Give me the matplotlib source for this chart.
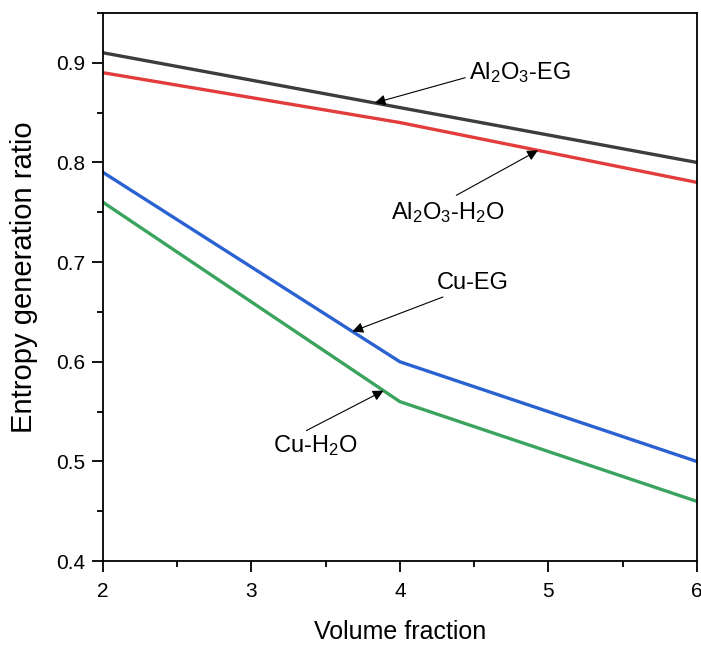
#!/usr/bin/env python3
"""Entropy generation ratio vs volume fraction for four nanofluids."""
import matplotlib

matplotlib.use("Agg")
import matplotlib.pyplot as plt
import numpy as np
from matplotlib.ticker import AutoMinorLocator, MultipleLocator

plt.rcParams["font.family"] = ["Liberation Sans", "DejaVu Sans"]
plt.rcParams["mathtext.fontset"] = "custom"
plt.rcParams["mathtext.rm"] = "Liberation Sans"
plt.rcParams["mathtext.default"] = "regular"

volume_fraction = [2, 4, 6]
al2o3_eg = [0.91, 0.855, 0.80]
al2o3_h2o = [0.89, 0.84, 0.78]
cu_eg = [0.79, 0.60, 0.50]
cu_h2o = [0.76, 0.56, 0.46]

series = [
    (al2o3_eg, "#3d3d3d"),
    (al2o3_h2o, "#e23c3c"),
    (cu_eg, "#2a62d2"),
    (cu_h2o, "#3aa45e"),
]

# label text, text position, arrow tail, x of arrow head on the curve
labels = [
    ("Al$_2$O$_3$-EG", (4.81, 0.890), (4.44, 0.885), 3.83, al2o3_eg),
    ("Al$_2$O$_3$-H$_2$O", (4.32, 0.750), (4.38, 0.767), 4.93, al2o3_h2o),
    ("Cu-EG", (4.49, 0.679), (4.29, 0.665), 3.68, cu_eg),
    ("Cu-H$_2$O", (3.43, 0.516), (3.37, 0.531), 3.89, cu_h2o),
]

fig = plt.figure(figsize=(7.01, 6.45), dpi=100)
ax = fig.add_axes([0.147, 0.130, 0.847, 0.850])

for y, c in series:
    ax.plot(volume_fraction, y, color=c, lw=2.4, solid_joinstyle="miter")

for text, tpos, tail, hx, y in labels:
    hy = np.interp(hx, volume_fraction, y)
    ax.annotate("", xy=(hx, hy), xytext=tail,
                arrowprops=dict(arrowstyle="-|>", lw=0.8, color="black",
                                mutation_scale=16, shrinkA=0, shrinkB=0))
    ax.text(tpos[0], tpos[1], text, fontsize=17, ha="center", va="center")

ax.set_xlim(2, 6)
ax.set_ylim(0.4, 0.95)
ax.xaxis.set_major_locator(MultipleLocator(1))
ax.yaxis.set_major_locator(MultipleLocator(0.1))
ax.xaxis.set_minor_locator(AutoMinorLocator(2))
ax.yaxis.set_minor_locator(AutoMinorLocator(2))
ax.tick_params(which="major", direction="out", length=8, width=1.3, labelsize=15)
ax.tick_params(which="minor", direction="out", length=4, width=1.3)
ax.tick_params(axis="x", which="major", pad=7)
ax.tick_params(axis="y", which="major", pad=5)
for s in ax.spines.values():
    s.set_linewidth(1.3)

ax.set_xlabel("Volume fraction", fontsize=18, va="center")
ax.set_ylabel("Entropy generation ratio", fontsize=21, va="center")
ax.xaxis.set_label_coords(0.5, -0.130)
ax.yaxis.set_label_coords(-0.133, 0.518)

fig.savefig("out.png", dpi=100)
